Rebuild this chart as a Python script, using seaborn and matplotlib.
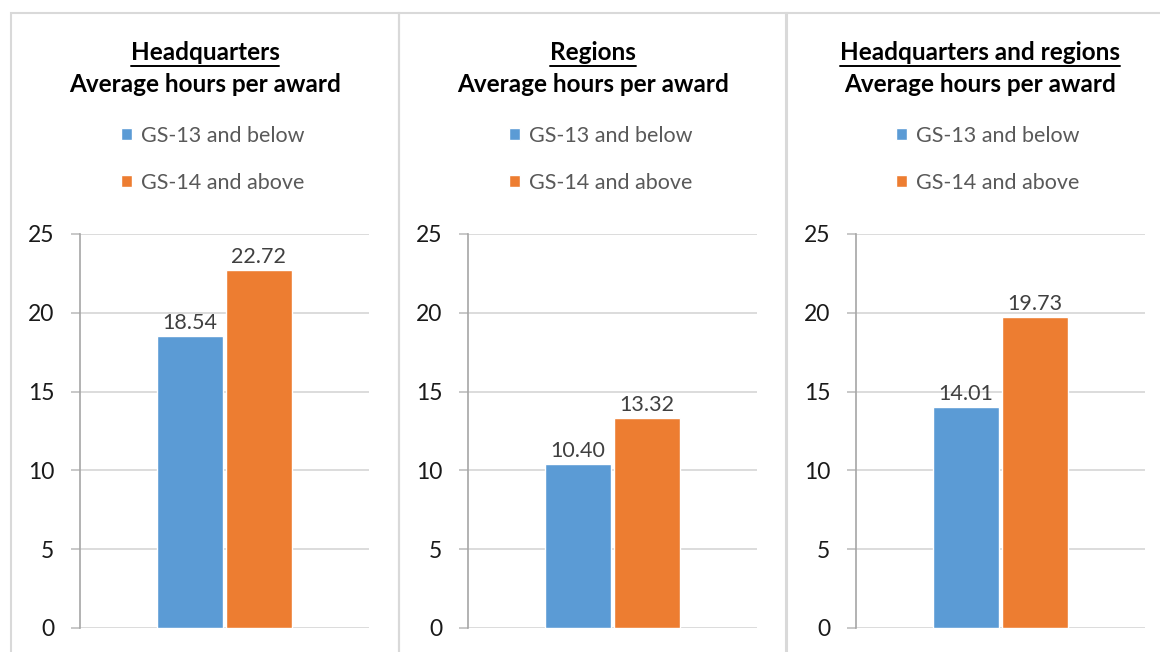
import pandas as pd
import matplotlib.pyplot as plt
from matplotlib.patches import Rectangle
from matplotlib.lines import Line2D
import seaborn as sns

# Chart data
panel_names = ["Headquarters", "Regions", "Headquarters and regions"]
subtitle = "Average hours per award"
grades = ["GS-13 and below", "GS-14 and above"]
gs13_below = [18.54, 10.40, 14.01]
gs14_above = [22.72, 13.32, 19.73]
y_ticks = [0, 5, 10, 15, 20, 25]

colors = ["#5B9BD5", "#ED7D31"]

sns.set_theme(style="white")
plt.rcParams['font.family'] = ['Lato', 'DejaVu Sans']

W, H = 1160, 652
fig = plt.figure(figsize=(W / 100, H / 100), dpi=100)

box_left = [11, 399, 786]
box_w = 388
axis_left = [80, 468, 856]
axis_w = 289
y0_px, y25_px = 628, 234

# panel borders
for bl in box_left:
    fig.patches.append(Rectangle((bl / W, -0.1), box_w / W, (H - 13) / H + 0.1,
                                 transform=fig.transFigure, fill=False,
                                 edgecolor="#d9d9d9", linewidth=1.5))

titles = []
for i, name in enumerate(panel_names):
    df = pd.DataFrame({"panel": [name, name],
                       "grade": grades,
                       "hours": [gs13_below[i], gs14_above[i]]})
    ax = fig.add_axes([axis_left[i] / W, (H - y0_px) / H,
                       axis_w / W, (y0_px - y25_px) / H])
    sns.barplot(data=df, x="panel", y="hours", hue="grade", hue_order=grades,
                palette=colors, width=0.475, gap=0.045, saturation=1,
                ax=ax, legend=True)
    ax.set_ylim(0, 25)
    ax.set_yticks(y_ticks)
    ax.set_xlim(-0.5, 0.5)
    ax.set_xticks([])
    ax.set_xlabel("")
    ax.set_ylabel("")
    ax.grid(axis="y", color="#d9d9d9", linewidth=1.3)
    ax.set_axisbelow(True)
    for s in ["top", "right", "bottom"]:
        ax.spines[s].set_visible(False)
    ax.spines["left"].set_color("#a6a6a6")
    ax.spines["left"].set_linewidth(1.2)
    ax.tick_params(axis="y", length=6.5, width=1.2, color="#bfbfbf",
                   labelsize=16.5, labelcolor="#1a1a1a", pad=12, left=True)
    for c in ax.containers:
        ax.bar_label(c, fmt="%.2f", padding=2, fontsize=15.5, color="#404040")

    handles, labels = ax.get_legend_handles_labels()
    ax.legend(handles, labels, loc="upper left",
              bbox_to_anchor=((box_left[i] + 110) / W, (H - 126) / H),
              bbox_transform=fig.transFigure, frameon=False,
              fontsize=15.5, labelcolor="#595959",
              handlelength=0.5, handleheight=0.5, handletextpad=0.45,
              labelspacing=1.25, borderpad=0, borderaxespad=0)

    cx = (box_left[i] + box_w / 2) / W
    t = fig.text(cx, (H - 53) / H, name, ha="center", va="center",
                 fontsize=17.5, fontweight="bold", color="black")
    fig.text(cx, (H - 84) / H, subtitle, ha="center", va="center",
             fontsize=17.5, fontweight="bold", color="black")
    titles.append(t)

# underline the panel names
fig.canvas.draw()
renderer = fig.canvas.get_renderer()
for t in titles:
    bb = t.get_window_extent(renderer)
    y = (bb.y0 - 1) / H
    fig.add_artist(Line2D([bb.x0 / W, bb.x1 / W], [y, y],
                          transform=fig.transFigure, color="black", linewidth=1.4))

fig.savefig("out.png", dpi=100)
